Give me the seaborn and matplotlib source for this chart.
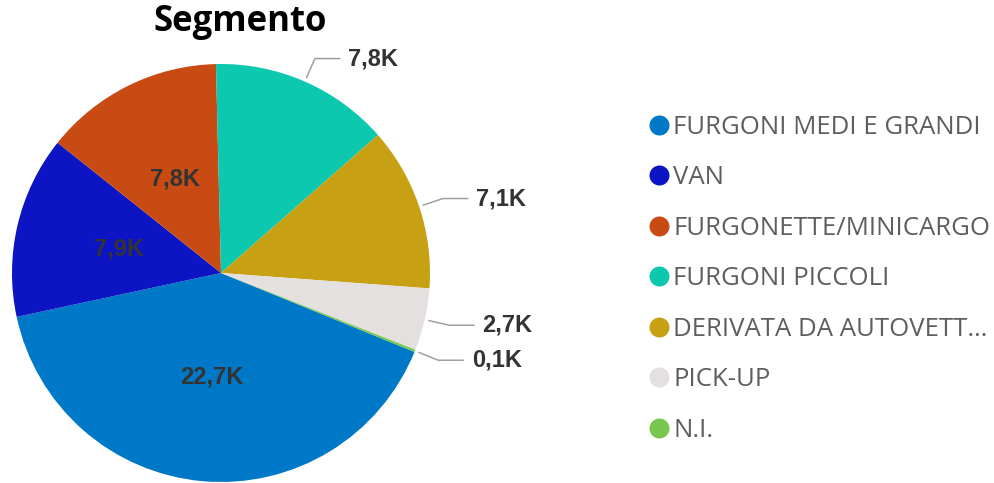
import numpy as np
import matplotlib.pyplot as plt
import seaborn as sns
from matplotlib.lines import Line2D

categories = ["FURGONI MEDI E GRANDI", "VAN", "FURGONETTE/MINICARGO", "FURGONI PICCOLI",
              "DERIVATA DA AUTOVETT…", "PICK-UP", "N.I."]
values = [22.7, 7.9, 7.8, 7.8, 7.1, 2.7, 0.1]
value_labels = ["22,7K", "7,9K", "7,8K", "7,8K", "7,1K", "2,7K", "0,1K"]
label_inside = [True, True, True, False, False, False, False]
colors = ["#0078C8", "#0C14C4", "#C84B14", "#0CC8AF", "#C8A014", "#E4E0E0", "#78C850"]

sns.set_theme(style="white")
plt.rcParams['font.family'] = ['Open Sans', 'DejaVu Sans']
palette = sns.color_palette(colors)

fig = plt.figure(figsize=(9.95, 4.83), dpi=100)
ax = fig.add_axes([12 / 995, 1 / 483, 418 / 995, 418 / 483])
wedges, _ = ax.pie(values, colors=palette, startangle=-22.2, counterclock=False,
                   radius=1, wedgeprops=dict(linewidth=0))
ax.set_xlim(-1, 1)
ax.set_ylim(-1, 1)
ax.set_aspect('equal')
ax.axis('off')

lab_font = dict(family=['Liberation Sans', 'DejaVu Sans'], fontsize=17,
                fontweight='bold', color='#333333')
for w, lab, ins in zip(wedges, value_labels, label_inside):
    ang = np.deg2rad((w.theta1 + w.theta2) / 2)
    c, s = np.cos(ang), np.sin(ang)
    if ins:
        ax.text(0.5 * c, 0.5 * s, lab, ha='center', va='center', **lab_font)
    else:
        x0, y0 = 1.02 * c, 1.02 * s
        x1, y1 = 1.12 * c, 1.12 * s
        x2 = x1 + 0.12
        ax.plot([x0, x1, x2], [y0, y1, y1], color='#A0A0A0', lw=1.1, clip_on=False)
        ax.text(x2 + 0.04, y1, lab, ha='left', va='center', clip_on=False, **lab_font)

fig.text(240 / 995, 1 - 22 / 483, 'Segmento', ha='center', va='center',
         fontsize=25, fontweight='bold', color='black')

handles = [Line2D([], [], marker='o', ls='', markersize=14.4, markerfacecolor=col,
                  markeredgewidth=0) for col in palette]
fig.legend(handles, categories, loc='upper left', bbox_to_anchor=(649 / 995, 1 - 115 / 483),
           frameon=False, fontsize=18.5, labelcolor='#605E5C', handlelength=0.8,
           handletextpad=0.15, labelspacing=0.99, borderpad=0, borderaxespad=0)

fig.savefig('out.png', dpi=100)
